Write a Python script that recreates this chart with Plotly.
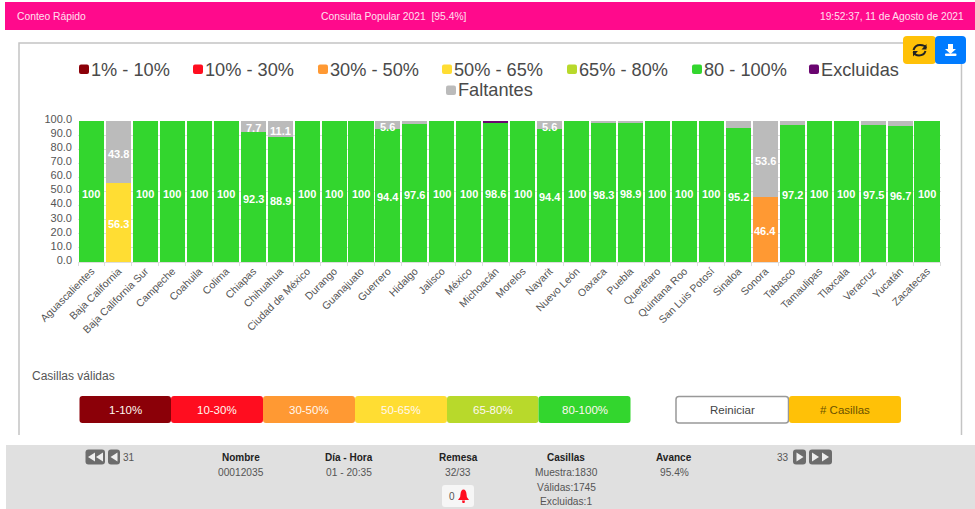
import plotly.graph_objects as go

W, H = 975, 509

estados = ["Aguascalientes", "Baja California", "Baja California Sur", "Campeche", "Coahuila", "Colima",
           "Chiapas", "Chihuahua", "Ciudad de México", "Durango", "Guanajuato", "Guerrero", "Hidalgo",
           "Jalisco", "México", "Michoacán", "Morelos", "Nayarit", "Nuevo León", "Oaxaca", "Puebla",
           "Querétaro", "Quintana Roo", "San Luis Potosí", "Sinaloa", "Sonora", "Tabasco", "Tamaulipas",
           "Tlaxcala", "Veracruz", "Yucatán", "Zacatecas"]

rango_1_10 = [0] * 32
rango_10_30 = [0] * 32
rango_30_50 = [0, 0, 0, 0, 0, 0, 0, 0, 0, 0, 0, 0, 0, 0, 0, 0,
               0, 0, 0, 0, 0, 0, 0, 0, 0, 46.4, 0, 0, 0, 0, 0, 0]
rango_50_65 = [0, 56.3, 0, 0, 0, 0, 0, 0, 0, 0, 0, 0, 0, 0, 0, 0,
               0, 0, 0, 0, 0, 0, 0, 0, 0, 0, 0, 0, 0, 0, 0, 0]
rango_65_80 = [0] * 32
rango_80_100 = [100, 0, 100, 100, 100, 100, 92.3, 88.9, 100, 100, 100, 94.4, 97.6, 100, 100, 98.6,
                100, 94.4, 100, 98.3, 98.9, 100, 100, 100, 95.2, 0, 97.2, 100, 100, 97.5, 96.7, 100]
excluidas = [0, 0, 0, 0, 0, 0, 0, 0, 0, 0, 0, 0, 0, 0, 0, 1.4,
             0, 0, 0, 0, 0, 0, 0, 0, 0, 0, 0, 0, 0, 0, 0, 0]
faltantes = [0, 43.8, 0, 0, 0, 0, 7.7, 11.1, 0, 0, 0, 5.6, 2.4, 0, 0, 0,
             0, 5.6, 0, 1.7, 1.1, 0, 0, 0, 4.8, 53.6, 2.8, 0, 0, 2.5, 3.3, 0]

series = [("1% - 10%", rango_1_10, "#8B0008"),
          ("10% - 30%", rango_10_30, "#FF0D1F"),
          ("30% - 50%", rango_30_50, "#FF9933"),
          ("50% - 65%", rango_50_65, "#FFDD33"),
          ("65% - 80%", rango_65_80, "#B8D92B"),
          ("80 - 100%", rango_80_100, "#33D62E"),
          ("Excluidas", excluidas, "#6A0570"),
          ("Faltantes", faltantes, "#BBBBBB")]

TXT = "#555555"
FONT = "Liberation Sans, Arial, sans-serif"


def fx(x):
    return x / W


def fy(y):
    return 1 - y / H


def poly(points):
    return "M " + " L ".join(f"{fx(x):.5f} {fy(y):.5f}" for x, y in points) + " Z"


def rrect(x0, y0, x1, y1, rl=3, rr=3):
    return (f"M {fx(x0 + rl):.5f} {fy(y0):.5f} L {fx(x1 - rr):.5f} {fy(y0):.5f} "
            f"Q {fx(x1):.5f} {fy(y0):.5f} {fx(x1):.5f} {fy(y0 + rr):.5f} "
            f"L {fx(x1):.5f} {fy(y1 - rr):.5f} Q {fx(x1):.5f} {fy(y1):.5f} {fx(x1 - rr):.5f} {fy(y1):.5f} "
            f"L {fx(x0 + rl):.5f} {fy(y1):.5f} Q {fx(x0):.5f} {fy(y1):.5f} {fx(x0):.5f} {fy(y1 - rl):.5f} "
            f"L {fx(x0):.5f} {fy(y0 + rl):.5f} Q {fx(x0):.5f} {fy(y0):.5f} {fx(x0 + rl):.5f} {fy(y0):.5f} Z")


shapes = []
annotations = []


def box(x0, y0, x1, y1, fill, line=None, r=3, layer="above"):
    shapes.append(dict(type="path", path=rrect(x0, y0, x1, y1, r, r), xref="paper", yref="paper",
                       fillcolor=fill, line=dict(color=line or fill, width=1.5 if line else 0), layer=layer))


def shape_path(path, fill=None, line=None, width=0):
    shapes.append(dict(type="path", path=path, xref="paper", yref="paper",
                       fillcolor=fill or "rgba(0,0,0,0)",
                       line=dict(color=line or "rgba(0,0,0,0)", width=width), layer="above"))


def label(x, y, text, size=10, color=TXT, anchor="center"):
    annotations.append(dict(x=fx(x), y=fy(y), xref="paper", yref="paper", text=text, showarrow=False,
                            xanchor=anchor, yanchor="middle", align=anchor, borderpad=0,
                            font=dict(size=size, color=color, family=FONT)))


fig = go.Figure()
base = [0] * len(estados)
for nombre, valores, color in series:
    fig.add_trace(go.Bar(x=estados, y=valores, name=nombre, marker=dict(color=color, line=dict(width=0)),
                         showlegend=False))
    # only labels of 5 or more are drawn in the original, sitting 2px under the segment centre
    for i, v in enumerate(valores):
        if v >= 5:
            annotations.append(dict(x=estados[i], y=base[i] + v / 2, xref="x", yref="y", text=f"<b>{v:g}</b>",
                                    showarrow=False, yshift=-2, borderpad=0,
                                    font=dict(size=11, color="white", family=FONT)))
        base[i] += v

# page background pieces
box(5, 2, 975, 30, "#FF0A8C", r=0, layer="below")
box(6, 445, 975, 509, "#E0E0E0", r=0, layer="below")
shapes.append(dict(type="path", path=poly([(19, 435), (19, 43), (961.5, 43), (961.5, 435), (961.5, 43), (19, 43)]),
                   xref="paper", yref="paper", line=dict(color="#C4C4C4", width=1.5), layer="below"))

label(16, 16.5, "Conteo Rápido", 10.3, "#FFE0F0", "left")
label(393.5, 16.5, "Consulta Popular 2021  [95.4%]", 10.3, "#FFE0F0")
label(965, 16.5, "19:52:37, 11 de Agosto de 2021", 10.2, "#FFE0F0", "right")

# refresh / download buttons
box(903, 36, 936, 64, "#FFC107", r=4)
box(935, 36, 966, 64, "#007BFF", r=4)
shape_path(f"M {fx(926)} {fy(48)} Q {fx(925)} {fy(45)} {fx(920)} {fy(45)} Q {fx(915)} {fy(45)} {fx(913.5)} {fy(50)}",
           line="#222222", width=2)
shape_path(f"M {fx(913.5)} {fy(52)} Q {fx(915)} {fy(55.5)} {fx(919)} {fy(55.5)} Q {fx(924)} {fy(55.5)} {fx(925.5)} {fy(51)}",
           line="#222222", width=2)
shape_path(poly([(926.5, 44), (926.5, 49.5), (921.5, 49.5)]), fill="#222222")
shape_path(poly([(913, 56.5), (913, 51), (918, 51)]), fill="#222222")
shape_path(poly([(948, 44), (953, 44), (953, 49), (956, 49), (950.5, 54), (945, 49), (948, 49)]), fill="white")
box(945, 53.5, 956.5, 56, "white", r=1)

# legend
leyenda_x = [79, 193, 318, 442, 567, 692, 809, 446]
leyenda_y = [69.5, 69.5, 69.5, 69.5, 69.5, 69.5, 69.5, 90.5]
for (nombre, _, color), lx, ly in zip(series, leyenda_x, leyenda_y):
    box(lx, ly - 5, lx + 10, ly + 4.5, color, r=2)
    label(lx + 11, ly, nombre, 18.2, "#4A4A4A", "left")

label(31, 376, "Casillas válidas", 12, TXT, "left")

# range buttons
botones = ["1-10%", "10-30%", "30-50%", "50-65%", "65-80%", "80-100%"]
botones_x = [79.5, 171, 263, 355, 447, 538.5, 630.5]
for i, (txt, s) in enumerate(zip(botones, series)):
    box(botones_x[i], 396, botones_x[i + 1], 423, s[2], r=3)
    label((botones_x[i] + botones_x[i + 1]) / 2, 409.5, txt, 11.5, "#FFF8F0")
box(676, 396.5, 788.5, 423, "white", line="#999999", r=3)
label(732.5, 409.5, "Reiniciar", 11.5, "#444444")
box(789, 396, 901, 423, "#FFC107", r=3)
label(845, 409.5, "# Casillas", 11.5, "#6B5200")

# footer navigation
NAV = "#6C6C6C"
box(85.5, 449.5, 105, 464.5, NAV, r=3)
box(108, 449.5, 120, 464.5, NAV, r=3)
box(793, 449.5, 806, 464.5, NAV, r=3)
box(809, 449.5, 832, 464.5, NAV, r=3)
for tip, ancho in [(88, 7), (96, 7), (110.5, 7)]:
    shape_path(poly([(tip, 457), (tip + ancho, 452.5), (tip + ancho, 461.5)]), fill="#EEEEEE")
for tip, ancho in [(803.5, -7), (819, -7), (829, -7)]:
    shape_path(poly([(tip, 457), (tip + ancho, 452.5), (tip + ancho, 461.5)]), fill="#EEEEEE")
label(122, 457, "31", 10, TXT, "left")
label(790, 457, "33", 10, TXT, "right")

label(241, 457, "<b>Nombre</b>", 10, "#222222")
label(241, 472, "00012035", 10.2)
label(349, 457, "<b>Día - Hora</b>", 10, "#222222")
label(349, 472, "01 - 20:35", 10.2)
label(458, 457, "<b>Remesa</b>", 10, "#222222")
label(458, 472, "32/33", 10.2)
label(566, 457, "<b>Casillas</b>", 10, "#222222")
label(566, 472, "Muestra:1830", 10.2)
label(566, 487, "Válidas:1745", 10.2)
label(566, 501.5, "Excluidas:1", 10.2)
label(674, 457, "<b>Avance</b>", 10, "#222222")
label(674, 472, "95.4%", 10.2)

box(442, 485, 474, 507, "#F6F6F6", r=3)
label(452, 496.5, "0", 10, TXT)
shape_path(f"M {fx(458)} {fy(500)} Q {fx(461)} {fy(497)} {fx(460.5)} {fy(494)} Q {fx(461)} {fy(489.5)} {fx(463.5)} {fy(489.5)} "
           f"Q {fx(466)} {fy(489.5)} {fx(466.5)} {fy(494)} Q {fx(466)} {fy(497)} {fx(469)} {fy(500)} Z", fill="#FF0D1F")
shape_path(poly([(462, 500.5), (465, 500.5), (464.5, 503), (462.5, 503)]), fill="#FF0D1F")

fig.update_layout(
    width=W, height=H, barmode="stack", bargap=0.07,
    margin=dict(l=0, r=0, t=0, b=0, autoexpand=False),
    paper_bgcolor="white", plot_bgcolor="white",
    font=dict(family=FONT, color=TXT),
    shapes=shapes, annotations=annotations,
    xaxis=dict(domain=[fx(78), fx(940.5)], tickangle=-45, type="category", tickson="boundaries",
               ticks="outside", ticklen=3, tickcolor="#DDDDDD", linecolor="#DDDDDD", showgrid=False,
               ticklabelstandoff=-2, tickfont=dict(size=10.5, color=TXT), automargin=False),
    yaxis=dict(domain=[fy(262), fy(121)], range=[0, 100], dtick=10, tickformat=".1f", ticks="",
               showline=False, gridcolor="#DDDDDD", zeroline=False, ticklabelshift=-2, ticklabelstandoff=5,
               tickfont=dict(size=11, color=TXT), automargin=False),
)

fig.write_html("out.html", config=dict(displayModeBar=False),
               post_script="document.body.style.margin='0';document.body.style.overflow='hidden';")
